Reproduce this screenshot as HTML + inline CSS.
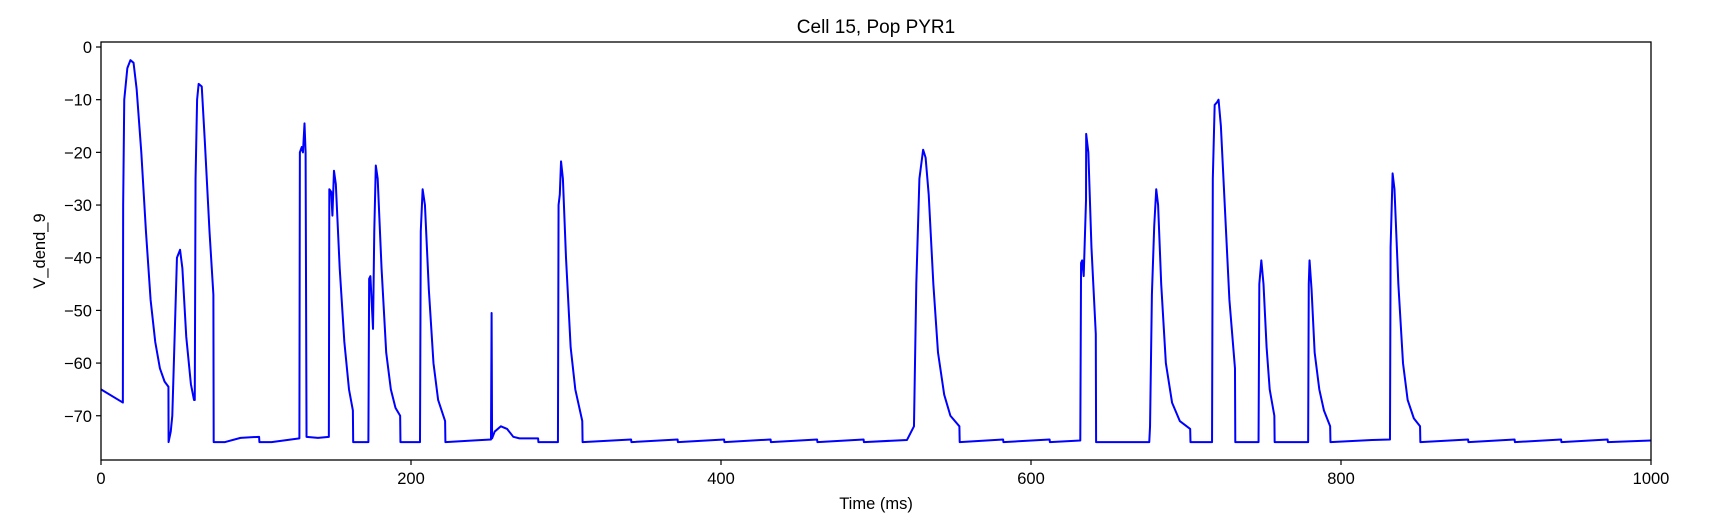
<!DOCTYPE html>
<html><head><meta charset="utf-8"><style>
html,body{margin:0;padding:0;background:#fff;}
svg{display:block;font-family:"Liberation Sans","DejaVu Sans",sans-serif;}
</style></head><body>
<svg id="chart" width="1717" height="529" viewBox="0 0 1717 529" xmlns="http://www.w3.org/2000/svg">
<text x="876" y="33" font-size="19" text-anchor="middle">Cell 15, Pop PYR1</text>
<g id="plot"></g>
<g id="axes"></g>
<text x="876" y="509" font-size="16.5" text-anchor="middle">Time (ms)</text>
<text transform="translate(45,251) rotate(-90)" font-size="16.5" text-anchor="middle">V_dend_9</text>
</svg>
<script>
const xTicks = [0, 200, 400, 600, 800, 1000];
const yTicks = [0, -10, -20, -30, -40, -50, -60, -70];
const times = [0,14.1,14.3,15,17,19,21,23,26,29,32,35,38,41,43.5,43.6,45,46,47.5,49,51,52.5,55,58,60,60.5,61,62,63,65,67,70,72.5,72.7,
80,90,102,102.2,110,128,128.3,129.5,130.3,131.3,132,132.6,140,147,147.3,148.5,149.3,150.3,151.5,154,157,160,162.5,162.7,172.5,173,173.8,175.5,176.3,177.3,178.5,181,184,187,190,193,193.2,
205.8,206.3,207.5,209,211.5,214.5,217.5,222,222.2,240,251.6,252,252.3,254,258,262,266,270,282,282.2,294.8,295.2,296,296.8,298,300,303,306,310.5,310.7,
342,342.2,372,372.2,402,402.2,432,432.2,462,462.2,492,492.2,520,524.5,526,528,530.4,532,534,537,540,544,548,553.8,554,
582,582.2,612,612.2,631.8,632.3,633,634,635.5,635.6,637,639,641.8,642,676.3,676.8,678,679.5,680.8,682,684,687,691,696,702.7,702.9,
716.8,717.3,718.5,720,721,722.5,725,728,731.6,731.8,746.8,747.3,748.6,750,752,754,757,757.2,778.8,779.2,779.7,781,783,786,789,793,793.2,
820,831.6,832,833.3,834.5,837,840,843,847,851,851.2,882,882.2,912,912.2,942,942.2,972,972.2,1000];
const volts = [-65,-67.5,-30,-10,-4,-2.5,-3,-8,-20,-35,-48,-56,-61,-63.5,-64.5,-75,-73,-70,-55,-40,-38.5,-42,-55,-64,-67,-67,-25,-10,-7,-7.5,-18,-35,-47,-75,
-75,-74.2,-74,-75,-75,-74.3,-20,-19,-20,-14.5,-20,-74,-74.2,-74,-27,-27.5,-32,-23.5,-26,-42,-56,-65,-69,-75,-75,-44,-43.5,-53.5,-35,-22.5,-25,-42,-58,-65,-68.5,-70,-75,
-75,-35,-27,-30,-46,-60,-67,-71,-75,-74.7,-74.5,-50.5,-74.3,-73,-72,-72.5,-74,-74.3,-74.3,-75,-75,-30,-28,-21.7,-25,-40,-57,-65,-71,-75,
-74.5,-75,-74.5,-75,-74.5,-75,-74.5,-75,-74.5,-75,-74.5,-75,-74.6,-72,-45,-25,-19.5,-21,-28,-45,-58,-66,-70,-72,-75,
-74.5,-75,-74.5,-75,-74.7,-41,-40.5,-43.5,-29,-16.5,-20,-38,-54.5,-75,-75,-72,-47,-34,-27,-30,-45,-60,-67.5,-71,-72.5,-75,
-75,-25,-11,-10.5,-10,-15,-30,-48,-61,-75,-75,-45,-40.5,-45,-57,-65,-70,-75,-75,-45,-40.5,-46,-58,-65,-69,-72,-75,
-74.6,-74.5,-38,-24,-27,-45,-60,-67,-70.5,-72,-75,-74.5,-75,-74.5,-75,-74.5,-75,-74.5,-75,-74.7];
const L=101,R=1651,T=42,B=460,XMIN=0,XMAX=1000,YMIN=-78.4,YMAX=0.95;
const xs = t => L + (t-XMIN)/(XMAX-XMIN)*(R-L);
const ys = v => B - (v-YMIN)/(YMAX-YMIN)*(B-T);
const NS="http://www.w3.org/2000/svg";
const plot=document.getElementById('plot'), axes=document.getElementById('axes');
let d="";
for(let i=0;i<times.length;i++){d+=(i?"L":"M")+xs(times[i]).toFixed(2)+" "+ys(volts[i]).toFixed(2);}
const line=document.createElementNS(NS,'path');
line.setAttribute('d',d);line.setAttribute('fill','none');line.setAttribute('stroke','#0000ff');line.setAttribute('stroke-width','2');line.setAttribute('stroke-linejoin','round');


plot.appendChild(line);
const frame=document.createElementNS(NS,'rect');
frame.setAttribute('x',L);frame.setAttribute('y',T);frame.setAttribute('width',R-L);frame.setAttribute('height',B-T);
frame.setAttribute('fill','none');frame.setAttribute('stroke','#000');frame.setAttribute('stroke-width','1.3');


axes.appendChild(frame);
xTicks.forEach(t=>{
  const x=xs(t);
  const tk=document.createElementNS(NS,'line');
  tk.setAttribute('x1',x);tk.setAttribute('x2',x);tk.setAttribute('y1',B);tk.setAttribute('y2',B+5);tk.setAttribute('stroke','#000');tk.setAttribute('stroke-width','1.2');
  
  
  axes.appendChild(tk);
  const tx=document.createElementNS(NS,'text');
  tx.setAttribute('x',x);tx.setAttribute('y',B+24);tx.setAttribute('font-size','16.5');tx.setAttribute('text-anchor','middle');
  tx.textContent=String(t);
  
  
  axes.appendChild(tx);
});
yTicks.forEach(v=>{
  const y=ys(v);
  const tk=document.createElementNS(NS,'line');
  tk.setAttribute('x1',L-5);tk.setAttribute('x2',L);tk.setAttribute('y1',y);tk.setAttribute('y2',y);tk.setAttribute('stroke','#000');tk.setAttribute('stroke-width','1.2');
  
  
  axes.appendChild(tk);
  const tx=document.createElementNS(NS,'text');
  tx.setAttribute('x',L-9);tx.setAttribute('y',y+6);tx.setAttribute('font-size','16.5');tx.setAttribute('text-anchor','end');
  tx.textContent=(v<0?"\u2212"+(-v):String(v));
  
  
  axes.appendChild(tx);
});
</script>
</body></html>
